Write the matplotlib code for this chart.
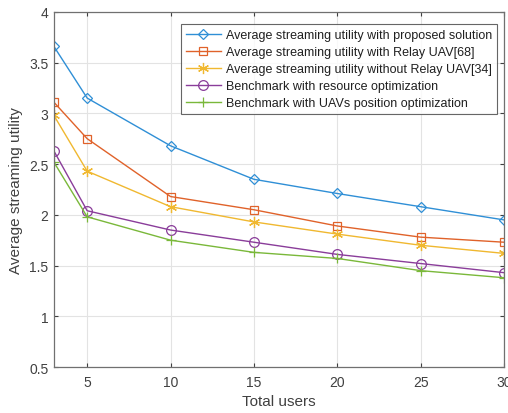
import matplotlib
matplotlib.use('Agg')
from matplotlib import pyplot as plt

plt.rcParams['font.family'] = ['Liberation Sans', 'DejaVu Sans']

users = [3, 5, 10, 15, 20, 25, 30]
proposed = [3.66, 3.15, 2.68, 2.35, 2.21, 2.08, 1.95]
relay_uav = [3.11, 2.75, 2.18, 2.05, 1.89, 1.78, 1.73]
without_relay = [2.98, 2.43, 2.08, 1.93, 1.81, 1.70, 1.62]
resource_opt = [2.63, 2.04, 1.85, 1.73, 1.61, 1.52, 1.43]
position_opt = [2.52, 1.98, 1.75, 1.63, 1.57, 1.45, 1.38]

# asterisk marker like MATLAB '*'
asterisk = (6, 2, 0)

series = [
    (proposed, 'Average streaming utility with proposed solution', '#2f8fd6', 'D', 5.5),
    (relay_uav, 'Average streaming utility with Relay UAV[68]', '#e0622a', 's', 6),
    (without_relay, 'Average streaming utility without Relay UAV[34]', '#f0b830', asterisk, 8),
    (resource_opt, 'Benchmark with resource optimization', '#8a3d9a', 'o', 7),
    (position_opt, 'Benchmark with UAVs position optimization', '#7ab83a', '+', 7),
]

fig = plt.figure(figsize=(5.08, 4.14), dpi=100)
ax = fig.add_axes([0.106, 0.111, 0.886, 0.858])

for vals, label, color, marker, ms in series:
    ax.plot(users, vals, color=color, marker=marker, markersize=ms, linewidth=1,
            markerfacecolor='none', markeredgecolor=color, markeredgewidth=0.9, label=label)

ax.set_xlim(3, 30)
ax.set_ylim(0.5, 4)
ax.set_xticks([5, 10, 15, 20, 25, 30])
ax.set_yticks([0.5, 1, 1.5, 2, 2.5, 3, 3.5, 4])
ax.set_yticklabels(['0.5', '1', '1.5', '2', '2.5', '3', '3.5', '4'])
ax.grid(True, color='#e3e3e3', linewidth=0.8)
ax.set_axisbelow(True)
ax.tick_params(direction='in', labelsize=10, colors='#404040', length=3,
               top=True, right=True)
ax.tick_params(axis='x', pad=6)
ax.tick_params(axis='y', pad=4)
for s in ax.spines.values():
    s.set_color('#707070')
    s.set_linewidth(0.9)

ax.set_xlabel('Total users', fontsize=11, color='#404040', labelpad=3)
ax.set_ylabel('Average streaming utility', fontsize=11, color='#404040', labelpad=4)

leg = ax.legend(loc='upper right', fontsize=9, frameon=True, fancybox=False,
                edgecolor='#404040', handlelength=2.8, borderpad=0.4,
                labelspacing=0.4, handletextpad=0.4, bbox_to_anchor=(0.998, 0.983))
leg.get_frame().set_linewidth(0.8)
for t in leg.get_texts():
    t.set_color('#202020')

fig.savefig('out.png', dpi=100)
